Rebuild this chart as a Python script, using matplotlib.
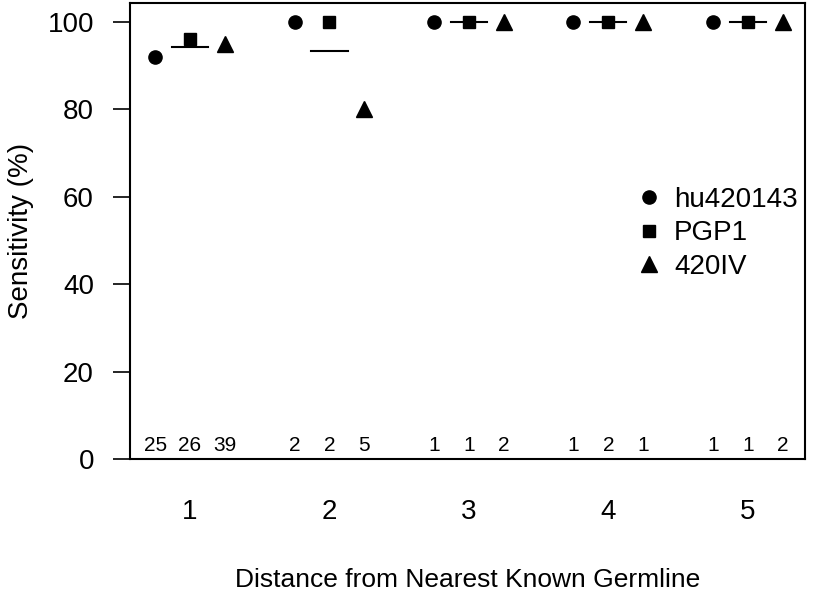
import numpy as np
import matplotlib
matplotlib.use("Agg")
import matplotlib.pyplot as plt

plt.rcParams["font.family"] = ["Liberation Sans", "DejaVu Sans"]

# distance groups and sample labels
distances = [1, 2, 3, 4, 5]
samples = ["hu420143", "PGP1", "420IV"]
markers = ["o", "s", "^"]
marker_sizes = [9.5, 8.5, 11.5]

# sensitivity (%) per sample, per distance
sens_hu420143 = [92.0, 100, 100, 100, 100]
sens_pgp1 = [96.2, 100, 100, 100, 100]
sens_420iv = [94.9, 80, 100, 100, 100]

# number of sites per sample, per distance
n_hu420143 = [25, 2, 1, 1, 1]
n_pgp1 = [26, 2, 1, 2, 1]
n_420iv = [39, 5, 2, 1, 2]

sens = [sens_hu420143, sens_pgp1, sens_420iv]
counts = [n_hu420143, n_pgp1, n_420iv]
offsets = [-0.25, 0.0, 0.25]

fig = plt.figure(figsize=(8.13, 5.92), dpi=100)
ax = fig.add_axes([0.16, 0.2247, 0.83, 0.770])

x = np.array(distances)
for i in range(3):
    ax.plot(x + offsets[i], sens[i], linestyle="none", marker=markers[i],
            markersize=marker_sizes[i], color="black", label=samples[i])
    for xi, c in zip(x, counts[i]):
        ax.text(xi + offsets[i], 0.8, str(c), ha="center", va="bottom", fontsize=15)

# mean line per distance
means = np.mean(np.array(sens), axis=0)
for xi, m in zip(x, means):
    ax.plot([xi - 0.13, xi + 0.13], [m, m], color="black", lw=1.5)

ax.set_xlim(0.57, 5.41)
ax.set_ylim(0, 104.3)
ax.set_xticks(distances)
ax.set_yticks([0, 20, 40, 60, 80, 100])
ax.tick_params(axis="x", length=0, pad=29, labelsize=20)
ax.tick_params(axis="y", length=12, width=1.2, pad=14, labelsize=20)
for s in ax.spines.values():
    s.set_linewidth(1.5)

ax.set_xlabel("Distance from Nearest Known Germline", fontsize=19, labelpad=31)
ax.set_ylabel("Sensitivity (%)", fontsize=20, labelpad=10)

ax.legend(loc="center left", bbox_to_anchor=(0.728, 0.495), frameon=False,
          fontsize=20, handlelength=1.0, handletextpad=0.4, labelspacing=0.26,
          borderpad=0)

fig.savefig("out.png", dpi=100)
